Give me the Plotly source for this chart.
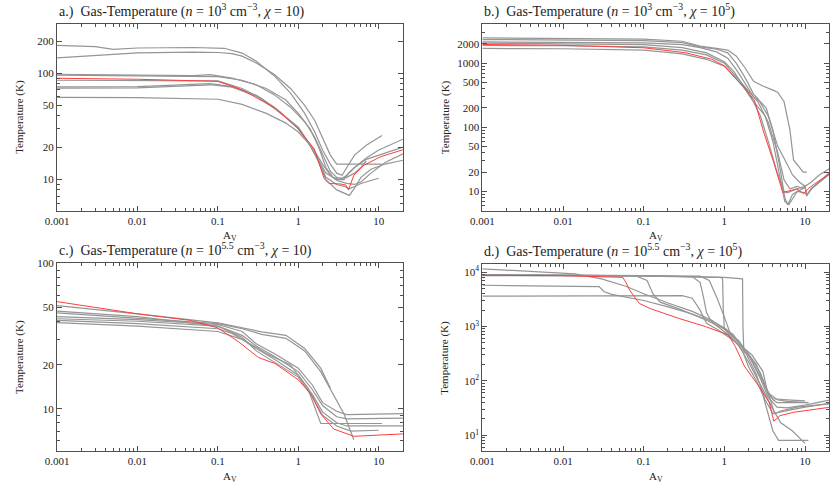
import plotly.graph_objects as go

# ---- panel a: n = 1e3, chi = 10 ----
a_red = ([0.001, 0.01, 0.1, 0.2, 0.52, 1, 1.58, 1.85, 2.1, 2.4, 3.3, 3.9, 4.2, 4.9, 6.5, 10.5, 20],
         [89.8, 87.9, 84, 70, 46.8, 30, 19.4, 13.6, 10.2, 9.2, 9.1, 8.9, 8.0, 11.0, 13.6, 16.4, 19.1])
a_gray = [
    ([0.001, 0.003, 0.005, 0.01, 0.05, 0.12, 0.2, 0.3, 0.5, 0.8, 1.2, 1.6, 2, 2.5, 3, 3.5, 4, 5, 7, 11],
     [183, 178, 168, 173, 175, 172, 155, 130, 95, 65, 42, 28, 19, 14, 11.5, 11, 13, 17, 21, 26]),
    ([0.001, 0.003, 0.01, 0.05, 0.1, 0.15, 0.2, 0.3, 0.5, 0.8, 1.2, 1.6, 2, 2.5, 3, 4, 6, 11],
     [140, 148, 156, 158, 157, 153, 145, 125, 98, 72, 50, 36, 25, 17, 14, 14, 14, 14]),
    ([0.001, 0.01, 0.05, 0.08, 0.15, 0.3, 0.5, 0.8, 1.2, 1.6, 2, 2.5, 3, 3.5, 4, 5, 7, 10, 20],
     [98, 96, 95, 97, 90, 78, 63, 48, 35, 25, 17, 12, 10.5, 10.3, 11, 13, 16, 19, 24]),
    ([0.001, 0.01, 0.1, 0.2, 0.4, 0.7, 1, 1.4, 1.8, 2.2, 2.7, 3.2, 3.7, 4.2, 5, 7, 10, 20],
     [96, 94, 93, 86, 72, 56, 42, 30, 20, 13, 10.5, 10, 10, 11.5, 13, 15.5, 17, 20.2]),
    ([0.001, 0.01, 0.1, 0.2, 0.35, 0.6, 1, 1.4, 1.8, 2.2, 3, 3.8, 4.3, 5, 6, 8, 10],
     [86, 85.5, 85, 72, 58, 43, 30, 21, 15, 10.5, 9, 8.6, 8.2, 8.6, 9.2, 9.8, 10.3]),
    ([0.001, 0.01, 0.08, 0.15, 0.3, 0.5, 1, 1.4, 1.8, 2.2, 3, 3.6, 4.3, 5, 6, 8, 12, 20],
     [74.5, 75, 80, 75, 62, 48, 31, 21, 14.5, 10, 8, 7.5, 7.1, 8.3, 10.5, 12.5, 14, 15.2]),
    ([0.001, 0.01, 0.08, 0.15, 0.3, 0.5, 1, 1.4, 1.8, 2.2, 3, 4, 5, 6, 7],
     [72.4, 73, 78, 74, 61, 47, 31, 21, 15, 11.5, 10, 10.5, 11.5, 13, 15]),
    ([0.001, 0.01, 0.1, 0.2, 0.4, 0.7, 1, 1.5, 2, 2.5, 3, 4, 5, 6, 8, 12, 20],
     [59.3, 59, 57, 51, 42, 34, 28, 20, 14, 11, 9.8, 9.2, 9, 9.5, 11.5, 14.5, 17.5]),
]

# ---- panel b: n = 1e3, chi = 1e5 ----
b_red = ([0.001, 0.01, 0.1, 0.33, 0.7, 1, 1.33, 1.77, 2.36, 3.1, 4.1, 5.3, 6, 7.9, 9.6, 10.9, 13.8, 20],
         [1960, 1900, 1740, 1455, 1150, 910, 600, 420, 263, 81, 28, 9.6, 10, 10.9, 9.2, 11, 13.7, 18.5])
b_gray = [
    ([0.001, 0.01, 0.1, 0.3, 0.5, 0.8, 1.1, 1.4, 1.8, 2.3, 3, 4, 4.6, 5.5, 6.5, 7.2, 8, 8.6, 9.5, 10.5],
     [2480, 2460, 2380, 2200, 1850, 1700, 1600, 1300, 850, 520, 440, 380, 350, 250, 90, 31, 26, 24, 20, 20]),
    ([0.001, 0.01, 0.1, 0.3, 0.5, 0.8, 1.1, 1.4, 1.8, 2.3, 2.6, 3.5, 4.6, 5.6, 7, 8.5, 10, 12, 15, 20],
     [2340, 2320, 2250, 2100, 1800, 1650, 1450, 1000, 600, 330, 280, 150, 50, 31.5, 18, 14, 12, 14, 18, 22.6]),
    ([0.001, 0.01, 0.1, 0.3, 0.5, 0.8, 1.1, 1.4, 1.8, 2.3, 2.6, 3.5, 4.6, 5.5, 6.5, 8, 9.5],
     [2150, 2130, 2080, 1950, 1750, 1500, 1200, 800, 480, 300, 250, 120, 40, 15, 11, 12, 11]),
    ([0.001, 0.01, 0.1, 0.3, 0.6, 1, 1.3, 1.7, 2.2, 2.6, 3.2, 4, 5, 5.6, 6.3, 8, 10, 10.5, 12, 20],
     [2050, 2020, 1950, 1750, 1450, 1050, 750, 450, 270, 208, 150, 60, 15, 7, 6.2, 10, 11.5, 8.6, 11, 19.5]),
    ([0.001, 0.01, 0.1, 0.3, 0.6, 1, 1.3, 1.8, 2.3, 2.8, 3.3, 4, 5, 5.6, 6.1, 7, 8, 10, 10.5, 12, 20],
     [1890, 1870, 1800, 1600, 1350, 1000, 680, 420, 300, 250, 200, 90, 20, 8, 6.2, 9, 10, 9.5, 8.6, 11, 19]),
    ([0.001, 0.01, 0.1, 0.3, 0.6, 1, 1.3, 1.7, 2.2, 2.8, 3.5, 4.5, 5.5, 6, 8, 10, 10.5, 12, 20],
     [1700, 1680, 1600, 1400, 1150, 900, 640, 430, 280, 150, 60, 20, 10, 9.5, 11, 12, 8.8, 11, 18.5]),
]

# ---- panel c: n = 10^5.5, chi = 10 ----
c_red = ([0.001, 0.01, 0.045, 0.1, 0.18, 0.32, 0.51, 1, 1.45, 1.9, 2.76, 4.5, 4.9, 20],
         [54.6, 45, 40.6, 36, 28.9, 22.5, 20.5, 15.8, 12.5, 9.2, 7.24, 6.5, 6.45, 6.7])
c_gray = [
    ([0.001, 0.01, 0.1, 0.2, 0.35, 0.7, 1.2, 1.9, 2.5],
     [51.3, 45, 39, 36, 33.8, 32, 26, 19, 13.9]),
    ([0.001, 0.01, 0.1, 0.2, 0.35, 0.7, 1.2, 1.9, 2.76, 3.7, 4.9],
     [45.7, 42, 38.5, 35.5, 32.5, 30.5, 25, 18, 12.5, 9.2, 6.1]),
    ([0.001, 0.01, 0.1, 0.2, 0.3, 0.5, 1, 1.5, 2, 3, 4, 20],
     [43, 41, 38, 34, 28, 24, 19, 14.5, 11, 9.6, 9.1, 9.25]),
    ([0.001, 0.01, 0.1, 0.2, 0.3, 0.5, 1, 1.5, 2, 3, 4, 20],
     [41.6, 40, 37, 32, 27, 23, 18, 13.5, 10.5, 8.8, 8.5, 8.6]),
    ([0.001, 0.01, 0.1, 0.15, 0.25, 0.4, 0.8, 1.3, 1.9, 3, 11],
     [40.5, 38.5, 35.5, 33, 28, 24, 20, 14, 7.9, 7.9, 7.9]),
    ([0.001, 0.01, 0.1, 0.2, 0.3, 0.5, 1, 1.5, 2, 3, 4, 20],
     [39.1, 37, 34, 30, 26, 22, 17, 12.5, 9.5, 8, 7.6, 7.6]),
    ([0.001, 0.01, 0.1, 0.2, 0.3, 0.5, 1, 1.5, 2, 3, 4.5, 10],
     [47, 43, 37, 31, 25, 21, 16.5, 12, 9, 7.6, 7, 7.1]),
]

# ---- panel d: n = 10^5.5, chi = 1e5 ----
d_red = ([0.001, 0.01, 0.055, 0.06, 0.067, 0.075, 0.088, 0.12, 0.27, 0.58, 1.11, 1.36, 1.77, 2.83, 3.6, 4.1, 4.9, 7.2, 20],
         [8700, 8600, 8000, 6500, 4640, 3600, 2660, 2140, 1414, 1000, 705, 433, 187, 71, 40, 18.2, 23, 26.5, 32.7])
d_gray = [
    ([0.001, 0.014, 0.03, 0.06, 0.1, 0.2, 0.4, 0.7, 1, 1.5, 2, 2.8, 3.5, 4.5, 6, 11],
     [11500, 9300, 7500, 5500, 4000, 2700, 1900, 1300, 900, 550, 300, 120, 60, 45, 42, 40]),
    ([0.001, 0.028, 0.032, 0.04, 0.1, 0.2, 0.4, 0.7, 1, 1.3, 1.8, 2.5, 3.2, 4, 5, 10, 20],
     [5730, 5400, 4400, 3900, 3000, 2300, 1700, 1250, 950, 700, 350, 130, 45, 25, 27, 33, 38.7]),
    ([0.001, 0.1, 0.3, 0.4, 0.5, 0.6, 0.8, 1.2, 1.8, 2.5, 3.2, 4, 4.5, 6, 11],
     [3610, 3650, 3700, 3300, 2000, 1150, 900, 600, 380, 200, 80, 45, 40, 40, 40]),
    ([0.001, 0.08, 0.11, 0.13, 0.16, 0.3, 0.6, 1, 1.5, 2, 2.8, 3.5, 4.5, 6, 10, 20],
     [9000, 8500, 7000, 4000, 2800, 2000, 1300, 900, 550, 300, 110, 50, 33, 32, 36, 44.5]),
    ([0.001, 0.1, 0.4, 0.5, 0.55, 0.6, 0.7, 1, 1.5, 2, 3, 4, 5, 7, 10],
     [8800, 8600, 8200, 6500, 3500, 1800, 1200, 800, 450, 220, 70, 30, 17, 12, 7.1]),
    ([0.001, 0.1, 0.5, 0.65, 0.8, 1, 1.2, 1.6, 2.2, 3, 3.5, 4, 4.5, 6, 10],
     [8900, 8700, 8400, 7000, 3500, 1500, 700, 450, 300, 150, 55, 47, 46, 45, 43]),
    ([0.001, 0.1, 0.9, 0.95, 0.97, 1.0, 1.2, 1.6, 2.2, 2.8, 3.5, 4.2, 5, 8, 20],
     [8800, 8600, 8000, 7500, 2000, 900, 650, 400, 250, 140, 60, 25, 28, 33, 38]),
    ([0.001, 0.1, 1, 1.6, 1.68, 1.7, 1.75, 2, 2.5, 3, 3.5, 4, 4.7, 11],
     [8600, 8400, 8000, 7600, 7500, 1000, 300, 180, 100, 55, 25, 12, 8.1, 8.1]),
]

x_ticks = [0.001, 0.01, 0.1, 1, 10]
x_tick_text = ["0.001", "0.01", "0.1", "1", "10"]

GRAY = "#959595"
RED = "#ff3c3c"
AXIS = "#505050"
FONT = "Liberation Serif"
W, H = 830, 485


def minor_vals(lo, hi, majors):
    vals = []
    dec = lo
    while dec < hi:
        for m in range(1, 10):
            v = m * dec
            if v <= hi and not any(abs(v - t) / t < 1e-6 for t in majors):
                vals.append(v)
        dec *= 10
    return vals


panels = [
    dict(gray=a_gray, red=a_red, box=(45.7, 18, 396.7, 207.3), yr=[0.707, 2.466],
         yt=[10, 20, 50, 100, 200], ytt=["10", "20", "50", "100", "200"], ylo=1, yhi=300,
         title="a.)  Gas-Temperature (<i>n</i> = 10<sup>3</sup> cm<sup>−3</sup>, <i>χ</i> = 10)"),
    dict(gray=b_gray, red=b_red, box=(477.3, 18, 829.3, 207.3), yr=[0.698, 3.615],
         yt=[10, 20, 50, 100, 200, 500, 1000, 2000],
         ytt=["10", "20", "50", "100", "200", "500", "1000", "2000"], ylo=1, yhi=4000,
         title="b.)  Gas-Temperature (<i>n</i> = 10<sup>3</sup> cm<sup>−3</sup>, <i>χ</i> = 10<sup>5</sup>)"),
    dict(gray=c_gray, red=c_red, box=(45.7, 260.7, 396.7, 450.7), yr=[0.7075, 2.0],
         yt=[10, 20, 50, 100], ytt=["10", "20", "50", "100"], ylo=1, yhi=100,
         title="c.)  Gas-Temperature (<i>n</i> = 10<sup>5.5</sup> cm<sup>−3</sup>, <i>χ</i> = 10)"),
    dict(gray=d_gray, red=d_red, box=(477.3, 261.7, 829.3, 450.7), yr=[0.71, 4.14],
         yt=[10, 100, 1000, 10000],
         ytt=["10<sup>1</sup>", "10<sup>2</sup>", "10<sup>3</sup>", "10<sup>4</sup>"], ylo=1, yhi=13000,
         title="d.)  Gas-Temperature (<i>n</i> = 10<sup>5.5</sup> cm<sup>−3</sup>, <i>χ</i> = 10<sup>5</sup>)"),
]

fig = go.Figure()
annotations = []
for i, p in enumerate(panels):
    n = "" if i == 0 else str(i + 1)
    xa, ya = "x" + n, "y" + n
    for av, t in p["gray"]:
        fig.add_trace(go.Scatter(x=av, y=t, mode="lines", xaxis=xa, yaxis=ya,
                                 line=dict(color=GRAY, width=1.2), showlegend=False))
    fig.add_trace(go.Scatter(x=p["red"][0], y=p["red"][1], mode="lines", xaxis=xa, yaxis=ya,
                             line=dict(color=RED, width=1), showlegend=False))

    x0, y0, x1, y1 = p["box"]
    xdom = [x0 / W, x1 / W]
    ydom = [1 - y1 / H, 1 - y0 / H]
    common = dict(type="log", showline=True, linecolor=AXIS, linewidth=1, mirror="allticks",
                  ticks="inside", ticklen=5, tickcolor=AXIS, showgrid=False, zeroline=False,
                  tickfont=dict(family=FONT, size=11, color="#222"))
    fig.update_layout(**{
        "xaxis" + n: dict(common, domain=xdom, anchor=ya, range=[-3, 1.301],
                          tickmode="array", tickvals=x_ticks, ticktext=x_tick_text,
                          minor=dict(tickmode="array", tickvals=minor_vals(0.001, 20, x_ticks),
                                     ticks="inside", ticklen=3, tickcolor=AXIS)),
        "yaxis" + n: dict(common, domain=ydom, anchor=xa, range=p["yr"],
                          tickmode="array", tickvals=p["yt"], ticktext=p["ytt"],
                          minor=dict(tickmode="array", tickvals=minor_vals(p["ylo"], p["yhi"], p["yt"]),
                                     ticks="inside", ticklen=3, tickcolor=AXIS)),
    })
    annotations.append(dict(text=p["title"], xref="paper", yref="paper", x=x0 / W, y=1 - (y0 - 2) / H,
                            xanchor="left", yanchor="bottom", showarrow=False,
                            font=dict(family=FONT, size=14, color="#222")))
    annotations.append(dict(text="A<sub>V</sub>", xref="paper", yref="paper", x=(x0 + x1) / 2 / W,
                            y=1 - (y1 + 26) / H, xanchor="center", yanchor="middle", showarrow=False,
                            font=dict(family=FONT, size=11, color="#222")))
    annotations.append(dict(text="Temperature (K)", xref="paper", yref="paper", x=(x0 - 38) / W,
                            y=1 - (y0 + y1) / 2 / H, xanchor="center", yanchor="middle",
                            textangle=-90, showarrow=False,
                            font=dict(family=FONT, size=11, color="#222")))

fig.update_layout(width=W, height=H, margin=dict(l=0, r=0, t=0, b=0),
                  paper_bgcolor="white", plot_bgcolor="white", annotations=annotations)
fig.write_html("out.html", config={"displayModeBar": False},
               post_script="document.body.style.margin='0';")
